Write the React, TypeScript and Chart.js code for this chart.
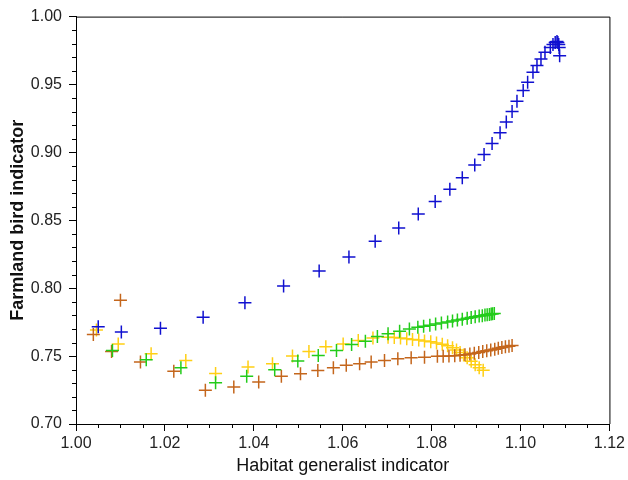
import React, { useEffect, useRef } from "react";
import { Chart, registerables } from "chart.js";

Chart.register(...registerables);

const blueX = [1.0050, 1.0102, 1.0190, 1.0286, 1.0380, 1.0467, 1.0547, 1.0614, 1.0673, 1.0726, 1.0770, 1.0808, 1.0841, 1.0869, 1.0897, 1.0918, 1.0936, 1.0954, 1.0968, 1.0981, 1.0992, 1.1006, 1.1016, 1.1028, 1.1037, 1.1046, 1.1055, 1.1067, 1.1073, 1.1078, 1.1082, 1.1084, 1.1086, 1.1087, 1.1088];
const blueY = [0.7717, 0.7677, 0.7706, 0.7787, 0.7893, 0.8017, 0.8127, 0.8229, 0.8346, 0.8444, 0.8546, 0.8639, 0.8729, 0.8814, 0.8907, 0.8985, 0.9065, 0.9144, 0.9224, 0.9302, 0.9376, 0.9456, 0.9517, 0.9590, 0.9639, 0.9688, 0.9737, 0.9773, 0.9795, 0.9810, 0.9817, 0.9810, 0.9795, 0.9773, 0.9712];

const greenX = [1.0082, 1.0158, 1.0236, 1.0314, 1.0384, 1.0447, 1.0499, 1.0545, 1.0586, 1.0620, 1.0651, 1.0678, 1.0702, 1.0728, 1.0750, 1.0769, 1.0782, 1.0796, 1.0809, 1.0822, 1.0836, 1.0847, 1.0858, 1.0869, 1.0880, 1.0889, 1.0898, 1.0907, 1.0914, 1.0920, 1.0925, 1.0930, 1.0934, 1.0937, 1.0941];
const greenY = [0.7541, 0.7473, 0.7415, 0.7304, 0.7351, 0.7400, 0.7463, 0.7505, 0.7541, 0.7585, 0.7609, 0.7644, 0.7664, 0.7683, 0.7700, 0.7712, 0.7720, 0.7728, 0.7736, 0.7744, 0.7752, 0.7759, 0.7765, 0.7772, 0.7779, 0.7784, 0.7789, 0.7795, 0.7798, 0.7802, 0.7805, 0.7807, 0.7810, 0.7812, 0.7814];

const yellowX = [1.0046, 1.0095, 1.0169, 1.0247, 1.0314, 1.0387, 1.0442, 1.0487, 1.0524, 1.0562, 1.0601, 1.0635, 1.0668, 1.0702, 1.0716, 1.0730, 1.0744, 1.0757, 1.0771, 1.0784, 1.0798, 1.0811, 1.0824, 1.0836, 1.0847, 1.0856, 1.0864, 1.0872, 1.0880, 1.0889, 1.0898, 1.0907, 1.0916];
const yellowY = [0.7693, 0.7590, 0.7517, 0.7468, 0.7371, 0.7419, 0.7444, 0.7501, 0.7534, 0.7569, 0.7590, 0.7615, 0.7634, 0.7639, 0.7637, 0.7633, 0.7628, 0.7623, 0.7618, 0.7612, 0.7605, 0.7597, 0.7588, 0.7576, 0.7562, 0.7545, 0.7527, 0.7508, 0.7488, 0.7462, 0.7437, 0.7414, 0.7395];

const orangeX = [1.0039, 1.0100, 1.0080, 1.0145, 1.0220, 1.0291, 1.0355, 1.0411, 1.0462, 1.0505, 1.0544, 1.0579, 1.0608, 1.0638, 1.0664, 1.0694, 1.0724, 1.0754, 1.0784, 1.0813, 1.0826, 1.0839, 1.0852, 1.0864, 1.0875, 1.0886, 1.0896, 1.0906, 1.0915, 1.0924, 1.0933, 1.0942, 1.0950, 1.0958, 1.0966, 1.0974, 1.0981];
const orangeY = [0.7659, 0.7912, 0.7534, 0.7456, 0.7388, 0.7249, 0.7273, 0.7310, 0.7351, 0.7370, 0.7394, 0.7415, 0.7432, 0.7444, 0.7456, 0.7468, 0.7481, 0.7488, 0.7492, 0.7498, 0.7499, 0.7501, 0.7503, 0.7506, 0.7510, 0.7515, 0.7521, 0.7527, 0.7533, 0.7539, 0.7545, 0.7551, 0.7557, 0.7563, 0.7568, 0.7573, 0.7578];

const xMin = 1.0;
const xMax = 1.12;
const xMajorStep = 0.02;
const xMinorStep = 0.005;
const yMin = 0.7;
const yMax = 1.0;
const yMajorStep = 0.05;
const yMinorStep = 0.01;

const xTitle = "Habitat generalist indicator";
const yTitle = "Farmland bird indicator";

const FONT = "'Liberation Sans', Arial, sans-serif";

function pts(xs: number[], ys: number[]) {
  return xs.map((x, i) => ({ x, y: ys[i] }));
}

const framePlugin = {
  id: "frameMinor",
  afterDraw(chart: any) {
    const { ctx, chartArea, scales } = chart;
    const xs = scales.x;
    const ys = scales.y;
    ctx.save();
    ctx.strokeStyle = "#000";
    ctx.lineWidth = 1;
    ctx.beginPath();
    ctx.moveTo(chartArea.left, chartArea.top + 0.5);
    ctx.lineTo(chartArea.right + 0.5, chartArea.top + 0.5);
    ctx.lineTo(chartArea.right + 0.5, chartArea.bottom);
    ctx.stroke();
    ctx.beginPath();
    const nx = Math.round((xMax - xMin) / xMinorStep);
    const per = Math.round(xMajorStep / xMinorStep);
    for (let i = 0; i <= nx; i++) {
      if (i % per === 0) continue;
      const px = Math.round(xs.getPixelForValue(xMin + i * xMinorStep)) + 0.5;
      ctx.moveTo(px, chartArea.bottom);
      ctx.lineTo(px, chartArea.bottom + 4);
    }
    const ny = Math.round((yMax - yMin) / yMinorStep);
    const pery = Math.round(yMajorStep / yMinorStep);
    for (let i = 0; i <= ny; i++) {
      if (i % pery === 0) continue;
      const py = Math.round(ys.getPixelForValue(yMin + i * yMinorStep)) + 0.5;
      ctx.moveTo(chartArea.left, py);
      ctx.lineTo(chartArea.left - 4, py);
    }
    ctx.stroke();
    ctx.restore();
  },
};

export default function App() {
  const ref = useRef<HTMLCanvasElement | null>(null);
  useEffect(() => {
    document.body.style.margin = "0";
    const canvas = ref.current;
    if (!canvas) return;
    const mk = (label: string, xs: number[], ys: number[], color: string) => ({
      label,
      data: pts(xs, ys),
      pointStyle: "cross",
      pointRadius: 6.5,
      pointHoverRadius: 6.5,
      borderColor: color,
      backgroundColor: color,
      pointBorderWidth: 1.5,
      borderWidth: 1.5,
      showLine: false,
    });
    const chart = new Chart(canvas, {
      type: "scatter",
      data: {
        datasets: [
          mk("blue", blueX, blueY, "#1010d0"),
          mk("green", greenX, greenY, "#22cc1a"),
          mk("orange", orangeX, orangeY, "#c4661c"),
          mk("yellow", yellowX, yellowY, "#ffcf14"),
        ],
      },
      options: {
        responsive: false,
        animation: false,
        events: [],
        layout: { padding: { top: 14, right: 15, left: 0, bottom: 0 } },
        plugins: { legend: { display: false }, tooltip: { enabled: false } },
        scales: {
          x: {
            type: "linear",
            min: xMin,
            max: xMax,
            afterFit: (s: any) => {
              s.height = 56;
            },
            ticks: {
              stepSize: xMajorStep,
              color: "#222",
              font: { family: FONT, size: 16 },
              padding: 3,
              maxRotation: 0,
              callback: (v: any) => Number(v).toFixed(2),
            },
            grid: {
              drawOnChartArea: false,
              drawTicks: true,
              tickLength: 7,
              tickColor: "#000",
              color: "#000",
            },
            border: { display: true, color: "#000", width: 1 },
            title: {
              display: true,
              text: xTitle,
              color: "#111",
              font: { family: FONT, size: 18 },
              padding: { top: 0, bottom: 3 },
            },
          },
          y: {
            type: "linear",
            min: yMin,
            max: yMax,
            afterFit: (s: any) => {
              s.width = 76;
            },
            ticks: {
              stepSize: yMajorStep,
              color: "#222",
              font: { family: FONT, size: 16 },
              padding: 7,
              callback: (v: any) => Number(v).toFixed(2),
            },
            grid: {
              drawOnChartArea: false,
              drawTicks: true,
              tickLength: 7,
              tickColor: "#000",
              color: "#000",
            },
            border: { display: true, color: "#000", width: 1 },
            title: {
              display: true,
              text: yTitle,
              color: "#111",
              font: { family: FONT, size: 18, weight: "bold" },
              padding: { top: 7, bottom: 0 },
            },
          },
        },
      },
      plugins: [framePlugin],
    } as any);
    return () => chart.destroy();
  }, []);
  return <canvas ref={ref} width={628} height={480} style={{ display: "block" }} />;
}
